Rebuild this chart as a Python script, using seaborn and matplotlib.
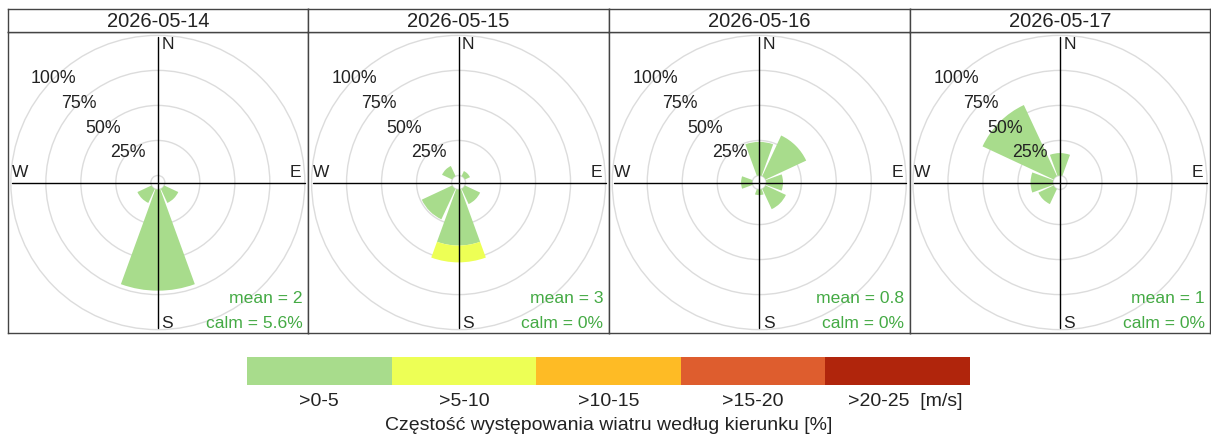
import numpy as np
import matplotlib
matplotlib.use("Agg")
import matplotlib.pyplot as plt
from matplotlib.patches import Wedge, Circle
from matplotlib.colors import ListedColormap
import seaborn as sns

# data
dates = ["2026-05-14", "2026-05-15", "2026-05-16", "2026-05-17"]
directions = [0, 45, 90, 135, 180, 225, 270, 315]  # N, NE, E, SE, S, SW, W, NW
freq_0_5 = [
    [0, 0, 0, 11.1, 72.2, 11.1, 0, 0],
    [0, 4, 0, 12, 40, 24, 0, 8],
    [24, 32, 12, 16, 4, 0, 8, 0],
    [16, 0, 0, 0, 0, 12, 16, 56],
]
freq_5_10 = [
    [0, 0, 0, 0, 0, 0, 0, 0],
    [0, 0, 0, 0, 12, 0, 0, 0],
    [0, 0, 0, 0, 0, 0, 0, 0],
    [0, 0, 0, 0, 0, 0, 0, 0],
]
mean_ws = ["2", "3", "0.8", "1"]
calm = ["5.6%", "0%", "0%", "0%"]
grid_pct = [25, 50, 75, 100]
band_labels = [">0-5", ">5-10", ">10-15", ">15-20", ">20-25  [m/s]"]
band_colors = ["#A8DC8C", "#EDFF55", "#FEBB25", "#DE5D2E", "#B0250C"]

sns.set_theme(style="white")
plt.rcParams["font.family"] = ["Liberation Sans", "DejaVu Sans"]

OFF = 5.0        # offset circle radius (in % units)
LIM = 107.4      # axis half range
HALF = 20.0      # half angular width of a wedge
TXT_GREEN = "#44AA44"
FRAME = "#444444"
INK = "#222222"

W, H = 1211, 441
fig = plt.figure(figsize=(W / 100, H / 100), dpi=100)

pw = 300.7
for i, day in enumerate(dates):
    left = (7.5 + i * pw) / W
    ax = fig.add_axes([left, (H - 333) / H, pw / W, 301 / H])
    strip = fig.add_axes([left, (H - 32) / H, pw / W, 23 / H])

    # grid circles
    for r in [OFF] + [OFF + p for p in grid_pct]:
        ax.add_patch(Circle((0, 0), r, fill=False, ec="#DCDCDC", lw=1, zorder=1))

    # wedges stacked by speed band
    for j, d in enumerate(directions):
        base = OFF
        for band, col in [(freq_0_5, band_colors[0]), (freq_5_10, band_colors[1])]:
            v = band[i][j]
            if v > 0:
                t_mid = 90 - d
                ax.add_patch(Wedge((0, 0), base + v, t_mid - HALF, t_mid + HALF,
                                   width=v, fc=col, ec="none", zorder=2))
                base += v

    R = 100 + OFF
    ax.plot([-R + 1, R], [0, 0], color="black", lw=1, zorder=3)
    ax.plot([0, 0], [-R + 1, R - 1], color="black", lw=1, zorder=3)

    for p in grid_pct:
        rr = (p + OFF) * np.sqrt(0.5)
        ax.text(-rr, rr, f"{p}%", ha="center", va="center", fontsize=12.8,
                color=INK, zorder=4)

    ax.text(2.5, R - 1, "N", ha="left", va="top", fontsize=12.5, color=INK)
    ax.text(-R + 1, 1.5, "W", ha="left", va="bottom", fontsize=12.5, color=INK)
    ax.text(R - 2.5, 1.5, "E", ha="right", va="bottom", fontsize=12.5, color=INK)
    ax.text(2.5, -R + 1, "S", ha="left", va="baseline", fontsize=12.5, color=INK)

    ax.text(R - 1.5, -86.3, f"mean = {mean_ws[i]}", ha="right", va="baseline",
            fontsize=12.6, color=TXT_GREEN)
    ax.text(R - 1.5, -104, f"calm = {calm[i]}", ha="right", va="baseline",
            fontsize=12.6, color=TXT_GREEN)

    ax.set_xlim(-LIM, LIM)
    ax.set_ylim(-LIM, LIM)
    ax.set_xticks([])
    ax.set_yticks([])
    for a in (ax, strip):
        for s in a.spines.values():
            s.set_color(FRAME)
            s.set_linewidth(1)
            s.set_visible(True)

    strip.set_xticks([])
    strip.set_yticks([])
    strip.set_facecolor("white")
    strip.text(0.5, 0.45, day, ha="center", va="center", fontsize=14.5,
               color=INK, transform=strip.transAxes)

# colour key
cax = fig.add_axes([247 / W, (H - 385) / H, 723 / W, 28 / H])
sns.heatmap(np.arange(len(band_colors))[None, :], cmap=ListedColormap(band_colors),
            cbar=False, ax=cax, xticklabels=False, yticklabels=False)
for k, lab in enumerate(band_labels):
    xk = k + 0.5 + (0.05 if k == len(band_labels) - 1 else 0)
    cax.text(xk, 1.6, lab, ha="center", va="center", fontsize=14, color=INK)
cax.text(2.5, 2.45, "Częstość występowania wiatru według kierunku [%]",
         ha="center", va="center", fontsize=14, color=INK)

fig.savefig("out.png", dpi=100, facecolor="white")
